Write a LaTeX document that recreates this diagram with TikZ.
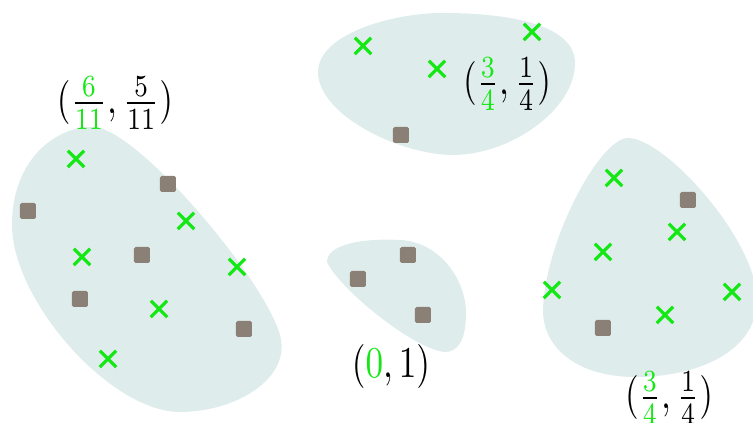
\documentclass[tikz,border=0pt]{standalone}
\usetikzlibrary{shapes.misc}
\definecolor{blobfill}{RGB}{223,236,236}
\definecolor{markgray}{RGB}{138,128,118}
\definecolor{markgreen}{RGB}{20,232,20}
\tikzset{
  blob/.style={fill=blobfill, draw=none},
  xmark/.style={cross out, draw=markgreen, line width=0.8pt, minimum size=3.3pt, inner sep=0pt},
  sqmark/.style={fill=markgray, rounded corners=0.4pt, minimum size=4pt, inner sep=0pt},
  pairlabel/.style={inner sep=0pt, font=\normalsize}
}
\newcommand{\grn}[1]{\textcolor{markgreen}{#1}}
\newcommand{\pairtext}[1]{\scalebox{0.88}[1.1]{$#1$}}
\begin{document}
\begin{tikzpicture}[x=0.25pt, y=-0.25pt]
  \useasboundingbox (0,0) rectangle (753,423);
  \clip (0,0) rectangle (753,423);
  \fill[blob] (92,127) .. controls (135,125) and (265,280) .. (280,335)
    .. controls (292,379) and (235,412) .. (180,412)
    .. controls (110,412) and (12,300) .. (12,225)
    .. controls (12,160) and (55,127) .. cycle;
  \fill[blob] (318,72) .. controls (318,35) and (390,13) .. (443,13)
    .. controls (510,13) and (575,25) .. (575,63)
    .. controls (575,110) and (510,155) .. (453,155)
    .. controls (400,155) and (318,115) .. cycle;
  \fill[blob] (327,262) .. controls (327,245) and (360,238) .. (400,240)
    .. controls (440,242) and (466,280) .. (466,313)
    .. controls (466,340) and (458,352) .. (445,352)
    .. controls (415,350) and (340,290) .. cycle;
  \fill[blob] (628,138) .. controls (665,138) and (757,240) .. (757,300)
    .. controls (757,350) and (700,377) .. (635,377)
    .. controls (580,377) and (543,350) .. (543,310)
    .. controls (545,240) and (600,138) .. cycle;
  \foreach \p [count=\i] in {(76,159),(186,221),(82,257),(237,267),(159,309),(108,359)}
    \node[xmark] (lx\i) at \p {};
  \foreach \p [count=\i] in {(168,184),(28,211),(142,255),(80,299),(244,329)}
    \node[sqmark] (ls\i) at \p {};
  \foreach \p [count=\i] in {(363,46),(437,69),(532,32)}
    \node[xmark] (tx\i) at \p {};
  \node[sqmark] (ts1) at (401,135) {};
  \foreach \p [count=\i] in {(408,255),(358,279),(423,315)}
    \node[sqmark] (ms\i) at \p {};
  \foreach \p [count=\i] in {(614,178),(677,232),(603,252),(552,290),(732,292),(665,315)}
    \node[xmark] (rx\i) at \p {};
  \foreach \p [count=\i] in {(688,200),(603,328)}
    \node[sqmark] (rs\i) at \p {};
  \node[pairlabel] (leftpair) at (115,103) {\pairtext{(\frac{\grn{6}}{\grn{11}},\frac{5}{11})}};
  \node[pairlabel] (toppair) at (507,84) {\pairtext{(\frac{\grn{3}}{\grn{4}},\frac{1}{4})}};
  \node[pairlabel] (midpair) at (391,367) {\pairtext{(\grn{0},1)}};
  \node[pairlabel] (rightpair) at (669,398) {\pairtext{(\frac{\grn{3}}{\grn{4}},\frac{1}{4})}};
\end{tikzpicture}
\end{document}
